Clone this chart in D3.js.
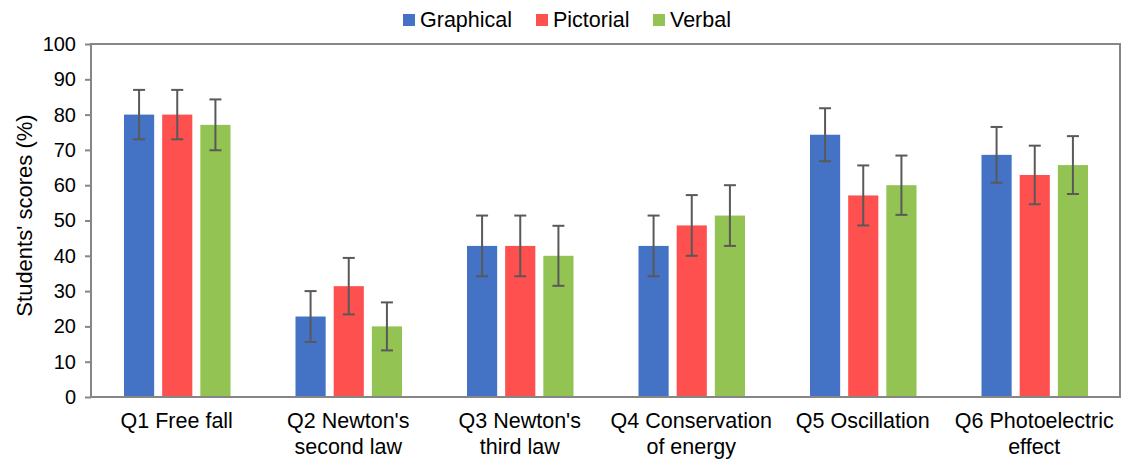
<!DOCTYPE html>
<html>
<head>
<meta charset="utf-8">
<title>Students' scores</title>
<script src="https://cdn.jsdelivr.net/npm/d3@7"></script>
<style>
  body { margin: 0; background: #fff; }
  text { font-family: "Liberation Sans", Arial, sans-serif; fill: #000; }
</style>
</head>
<body>
<script>
// data
var categories = [["Q1 Free fall"], ["Q2 Newton's", "second law"], ["Q3 Newton's", "third law"],
                  ["Q4 Conservation", "of energy"], ["Q5 Oscillation"], ["Q6 Photoelectric", "effect"]];
var seriesNames = ["Graphical", "Pictorial", "Verbal"];
var colors = ["#4472c4", "#ff5050", "#92c353"];
var graphical = [80, 22.8, 42.8, 42.8, 74.3, 68.6];
var pictorial = [80, 31.4, 42.8, 48.6, 57.1, 62.9];
var verbal = [77.1, 20, 40, 51.4, 60, 65.7];
var graphicalErr = [7, 7.2, 8.6, 8.6, 7.5, 7.9];
var pictorialErr = [7, 8, 8.6, 8.6, 8.5, 8.3];
var verbalErr = [7.2, 6.8, 8.5, 8.6, 8.4, 8.2];
var yTicks = [0, 10, 20, 30, 40, 50, 60, 70, 80, 90, 100];

var values = [graphical, pictorial, verbal];
var errs = [graphicalErr, pictorialErr, verbalErr];

var W = 1122, H = 461;
var m = {top: 44, right: 2, bottom: 64, left: 91};
var w = W - m.left - m.right, h = H - m.top - m.bottom;

var svg = d3.select("body").append("svg").attr("width", W).attr("height", H);
var g = svg.append("g").attr("transform", "translate(" + m.left + "," + m.top + ")");

var x0 = d3.scaleBand().domain(d3.range(categories.length)).range([0, w]).paddingInner(0).paddingOuter(0);
var x1 = d3.scaleBand().domain(d3.range(seriesNames.length)).range([33, x0.bandwidth() - 32]).paddingInner(0.21);
var y = d3.scaleLinear().domain([0, 100]).range([h, 0]);

// bars
categories.forEach(function(c, ci) {
  var grp = g.append("g").attr("transform", "translate(" + x0(ci) + ",0)");
  seriesNames.forEach(function(s, si) {
    var v = values[si][ci], e = errs[si][ci];
    var bx = x1(si), bw = x1.bandwidth(), cx = bx + bw / 2;
    grp.append("rect").attr("x", bx).attr("y", y(v)).attr("width", bw).attr("height", h - y(v))
      .attr("fill", colors[si]);
    grp.append("line").attr("x1", cx).attr("x2", cx).attr("y1", y(v + e)).attr("y2", y(v - e))
      .attr("stroke", "#595959").attr("stroke-width", 2);
    [v + e, v - e].forEach(function(t) {
      grp.append("line").attr("x1", cx - 6).attr("x2", cx + 6).attr("y1", y(t)).attr("y2", y(t))
        .attr("stroke", "#595959").attr("stroke-width", 2);
    });
  });
});

// frame
g.append("rect").attr("x", 0).attr("y", 0).attr("width", w).attr("height", h)
  .attr("fill", "none").attr("stroke", "#868686").attr("stroke-width", 2);

// y axis
var yAxis = g.append("g").call(d3.axisLeft(y).tickValues(yTicks).tickSize(6).tickPadding(9));
yAxis.select(".domain").remove();
yAxis.selectAll(".tick line").attr("stroke", "#868686").attr("stroke-width", 2);
yAxis.selectAll(".tick text").style("font-size", "20px").attr("fill", "#000");

g.append("text").attr("transform", "translate(-59," + (h / 2 - 5) + ") rotate(-90)")
  .attr("text-anchor", "middle").style("font-size", "22px").text("Students' scores (%)");

// x labels
categories.forEach(function(c, ci) {
  var t = g.append("text").attr("x", x0(ci) + x0.bandwidth() / 2).attr("y", h + 31)
    .attr("text-anchor", "middle").style("font-size", "21.5px");
  c.forEach(function(line, li) {
    t.append("tspan").attr("x", x0(ci) + x0.bandwidth() / 2).attr("dy", li ? 26 : 0).text(line);
  });
});

// legend
var legX = [403, 536, 653];
seriesNames.forEach(function(s, si) {
  svg.append("rect").attr("x", legX[si]).attr("y", 14).attr("width", 12).attr("height", 12).attr("fill", colors[si]);
  svg.append("text").attr("x", legX[si] + 17).attr("y", 27).style("font-size", "21.5px").text(s);
});
</script>
</body>
</html>
